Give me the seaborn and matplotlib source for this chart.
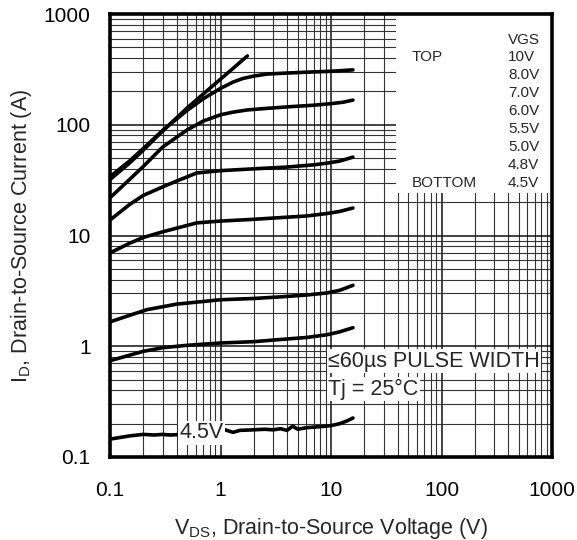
import matplotlib
matplotlib.use("Agg")
import matplotlib.pyplot as plt
from matplotlib.patches import Rectangle
from matplotlib.ticker import FixedLocator, FixedFormatter, LogLocator, NullFormatter
import seaborn as sns
import pandas as pd

# ---- data ----
vds_10 = [0.1, 0.15, 0.2, 0.3, 0.5, 0.7, 1.0, 1.3, 1.75]
id_10 = [32, 45, 59, 88, 142, 190, 258, 323, 418]

vds_8 = [0.1, 0.15, 0.2, 0.3, 0.5, 0.7, 1.0, 1.3, 1.6, 2.0, 2.64, 4.0, 6.9, 10.0, 15.8]
id_8 = [34, 47, 61, 89, 135, 172, 213, 243, 262, 275, 287, 293, 300, 304, 313]

vds_7 = [0.1, 0.15, 0.2, 0.3, 0.5, 0.7, 1.0, 1.3, 1.74, 2.5, 4.0, 6.9, 10.0, 13.0, 15.8]
id_7 = [21.9, 32, 42, 63, 90, 108, 123, 130, 136, 140, 145, 150, 155, 160, 167]

vds_6 = [0.1, 0.15, 0.2, 0.3, 0.4, 0.61, 1.0, 2.0, 4.0, 6.9, 9.2, 12.0, 15.8]
id_6 = [13.8, 19, 23, 27.5, 31, 36.7, 38.5, 40, 41.5, 43.4, 45, 47, 51]

vds_55 = [0.1, 0.15, 0.2, 0.3, 0.61, 1.0, 2.0, 3.46, 6.0, 9.2, 12.0, 15.8]
id_55 = [6.96, 8.5, 9.6, 10.8, 13.0, 13.5, 14.0, 14.5, 15.0, 15.8, 16.5, 17.7]

vds_5 = [0.1, 0.15, 0.216, 0.4, 1.0, 2.0, 3.46, 6.0, 9.2, 12.0, 15.8]
id_5 = [1.66, 1.9, 2.14, 2.4, 2.63, 2.7, 2.79, 2.9, 3.03, 3.2, 3.55]

vds_48 = [0.1, 0.15, 0.2, 0.3, 0.5, 1.0, 2.0, 3.46, 6.0, 9.2, 12.0, 15.8]
id_48 = [0.74, 0.83, 0.9, 0.97, 1.02, 1.07, 1.1, 1.15, 1.2, 1.27, 1.35, 1.47]

vds_45 = [0.1, 0.15, 0.2, 0.25, 0.3, 0.35, 0.45, 0.7, 1.0, 1.1, 1.3, 1.5, 2.0, 2.5,
          3.0, 3.5, 4.0, 4.5, 5.0, 6.0, 8.0, 10.0, 12.0, 14.0, 15.8]
id_45 = [0.145, 0.155, 0.16, 0.158, 0.16, 0.158, 0.16, 0.166, 0.172, 0.176, 0.167,
         0.174, 0.176, 0.178, 0.176, 0.18, 0.174, 0.19, 0.178, 0.184, 0.188, 0.192,
         0.2, 0.212, 0.225]

vgs_labels = ["10V", "8.0V", "7.0V", "6.0V", "5.5V", "5.0V", "4.8V", "4.5V"]
x_ticks = [0.1, 1, 10, 100, 1000]
x_tick_labels = ["0.1", "1", "10", "100", "1000"]
y_ticks = [0.1, 1, 10, 100, 1000]
y_tick_labels = ["0.1", "1", "10", "100", "1000"]

series = [(vds_10, id_10), (vds_8, id_8), (vds_7, id_7), (vds_6, id_6),
          (vds_55, id_55), (vds_5, id_5), (vds_48, id_48), (vds_45, id_45)]

frames = []
for lab, (xs, ys) in zip(vgs_labels, series):
    frames.append(pd.DataFrame({"vds": xs, "id": ys, "vgs": lab}))
df = pd.concat(frames, ignore_index=True)

# ---- plotting ----
sns.set_style("white")
plt.rcParams["font.family"] = ["Liberation Sans", "DejaVu Sans"]

fig = plt.figure(figsize=(5.77, 5.40), dpi=100)
ax = fig.add_axes([110 / 577, 1 - 457 / 540, 442 / 577, 443 / 540])

sns.lineplot(data=df, x="vds", y="id", hue="vgs", units="vgs", estimator=None,
             palette={l: "black" for l in vgs_labels}, legend=False,
             linewidth=2.6, sort=False, ax=ax, zorder=3)

ax.set_xscale("log")
ax.set_yscale("log")
ax.set_xlim(0.1, 1000)
ax.set_ylim(0.1, 1000)

ax.xaxis.set_major_locator(FixedLocator(x_ticks))
ax.xaxis.set_major_formatter(FixedFormatter(x_tick_labels))
ax.yaxis.set_major_locator(FixedLocator(y_ticks))
ax.yaxis.set_major_formatter(FixedFormatter(y_tick_labels))
ax.xaxis.set_minor_locator(LogLocator(base=10, subs=range(2, 10)))
ax.yaxis.set_minor_locator(LogLocator(base=10, subs=range(2, 10)))
ax.xaxis.set_minor_formatter(NullFormatter())
ax.yaxis.set_minor_formatter(NullFormatter())

ax.tick_params(axis="both", which="both", length=0, labelsize=15, colors="black")
ax.tick_params(axis="x", which="both", pad=17)
ax.tick_params(axis="y", which="both", pad=14)
ax.set_axisbelow(True)
ax.grid(True, which="major", color="#111111", linewidth=1.1)
ax.grid(True, which="minor", color="#333333", linewidth=0.8)

for sp in ax.spines.values():
    sp.set_visible(True)
    sp.set_color("black")
    sp.set_linewidth(2.6)
    sp.set_zorder(5)

ax.set_xlabel(r"$\mathregular{V_{DS}}$, Drain-to-Source Voltage (V)", fontsize=15.5,
              labelpad=12)
ax.set_ylabel(r"$\mathregular{I_D}$, Drain-to-Source Current (A)", fontsize=15.5,
              labelpad=7)

# legend box (white panel in upper right)
ax.add_patch(Rectangle((0.647, 0.596), 0.353, 0.404, transform=ax.transAxes,
                       facecolor="white", edgecolor="none", zorder=1))

lx_name = (412 - 110) / 442
lx_val = (508 - 110) / 442
fs_leg = 11
ax.text(lx_val, (457 - 40) / 443, "VGS", transform=ax.transAxes, fontsize=fs_leg,
        va="center", ha="left", zorder=4)
for i, lab in enumerate(vgs_labels):
    yy = (457 - (57 + 18 * i)) / 443
    ax.text(lx_val, yy, lab, transform=ax.transAxes, fontsize=fs_leg,
            va="center", ha="left", zorder=4)
ax.text(lx_name, (457 - 57) / 443, "TOP", transform=ax.transAxes, fontsize=fs_leg,
        va="center", ha="left", zorder=4)
ax.text(lx_name, (457 - (57 + 18 * 7)) / 443, "BOTTOM", transform=ax.transAxes,
        fontsize=fs_leg, va="center", ha="left", zorder=4)

# annotations
bbox = dict(facecolor="white", edgecolor="none", pad=1)
fs_ann = 15.5
ax.text((328 - 110) / 442, (457 - 361) / 443, "\u226460\u00b5s PULSE WIDTH",
        transform=ax.transAxes, fontsize=fs_ann, va="center", ha="left",
        bbox=bbox, zorder=4)
ax.text((328 - 110) / 442, (457 - 389) / 443, "Tj = 25\u00b0C",
        transform=ax.transAxes, fontsize=fs_ann, va="center", ha="left",
        bbox=bbox, zorder=4)
ax.text((179 - 110) / 442, (457 - 433) / 443, "4.5V", transform=ax.transAxes,
        fontsize=fs_ann, va="center", ha="left", bbox=bbox, zorder=4)

fig.savefig("out.png", dpi=100)
